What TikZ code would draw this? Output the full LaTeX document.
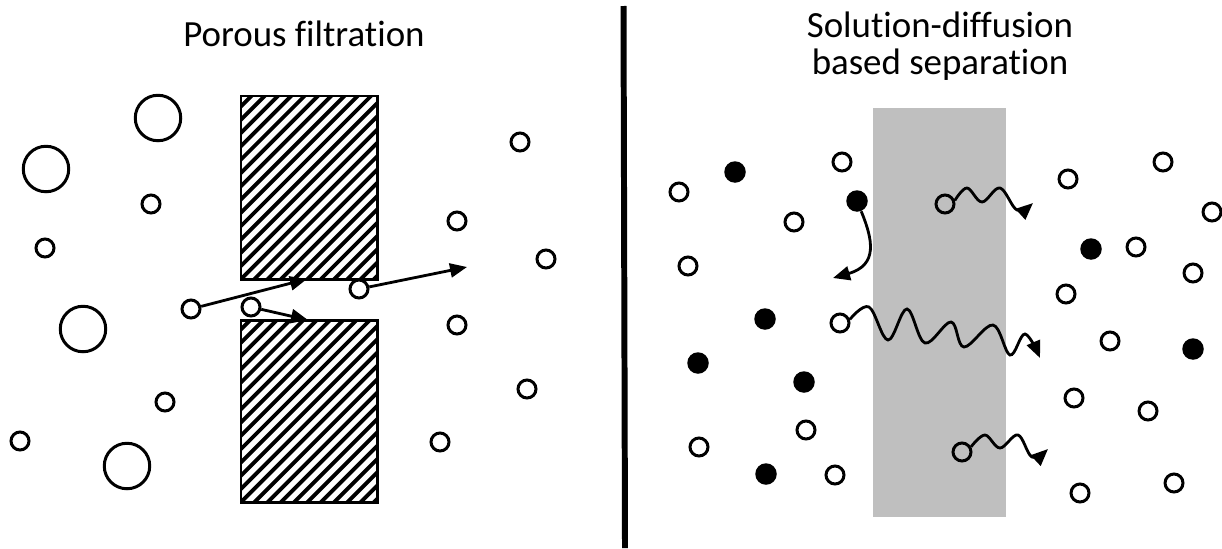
\documentclass[tikz,border=0pt]{standalone}
\usepackage{fontspec}
\setmainfont[Ligatures=NoCommon]{Carlito}
\usetikzlibrary{arrows.meta}

\begin{document}
\begin{tikzpicture}[x=0.02cm, y=-0.02cm,
  small/.style = {draw, circle, line width=1.7pt, minimum size=3.6mm, inner sep=0pt},
  big/.style = {draw, circle, line width=1.7pt, minimum size=9.1mm, inner sep=0pt},
  solute/.style = {fill, circle, minimum size=4.3mm, inner sep=0pt},
  arr/.style = {line width=1.6pt, -{Triangle[length=3.4mm, width=2.8mm]}},
  title/.style = {font=\fontsize{21}{22}\selectfont, anchor=base}]
\useasboundingbox (0,0) rectangle (1222,548);

% titles
\node[title] (pf) at (304,46) {Porous filtration};
\node[title] (sd1) at (940,37) {Solution-diffusion};
\node[title] (sd2) at (940,74) {based separation};

% divider
\draw[line width=3.4pt] (623.5,6) -- (625,548);

% porous walls
\foreach \ya/\yb in {96/279, 320/502} {
  \begin{scope}
    \clip (241,\ya) rectangle (377,\yb);
    \foreach \k in {0,...,26}
      \draw[line width=2.2pt] (50+\k*13.3,\yb+5) -- ++(200,-200);
  \end{scope}
  \draw[line width=1.7pt] (241,\ya) rectangle (377,\yb);
}

% dense membrane
\fill[gray!50] (873,108) rectangle (1006,517);

% left side
\node[big] (b1) at (158,118) {};
\node[big] (b2) at (46,169) {};
\node[big] (b3) at (83,329) {};
\node[big] (b4) at (127,466) {};
\node[small] (s1) at (151,204) {};
\node[small] (s2) at (45,248) {};
\node[small] (s3) at (191,309) {};
\node[small] (s4) at (165,402) {};
\node[small] (s5) at (20,441) {};
\node[small] (s6) at (251,307) {};
\node[small] (s7) at (359,289) {};
\node[small] (s8) at (457,221) {};
\node[small] (s9) at (520,142) {};
\node[small] (s10) at (546,259) {};
\node[small] (s11) at (457,325) {};
\node[small] (s12) at (527,389) {};
\node[small] (s13) at (440,442) {};

% right side
\node[small] (w1) at (842,162) {};
\node[small] (w2) at (679,192) {};
\node[small] (w3) at (794,222) {};
\node[small] (w4) at (688,266) {};
\node[small] (w5) at (840,323) {};
\node[small] (w6) at (806,430) {};
\node[small] (w7) at (699,447) {};
\node[small] (w8) at (835,475) {};
\node[small] (w9) at (945,204) {};
\node[small] (w10) at (962,452) {};
\node[small] (w11) at (1068,179) {};
\node[small] (w12) at (1163,162) {};
\node[small] (w13) at (1212,212) {};
\node[small] (w14) at (1136,247) {};
\node[small] (w15) at (1193,273) {};
\node[small] (w16) at (1066,294) {};
\node[small] (w17) at (1110,341) {};
\node[small] (w18) at (1074,398) {};
\node[small] (w19) at (1148,411) {};
\node[small] (w20) at (1080,493) {};
\node[small] (w21) at (1174,483) {};
\node[solute] (f1) at (735,172) {};
\node[solute] (f2) at (857,201) {};
\node[solute] (f3) at (765,319) {};
\node[solute] (f4) at (698,363) {};
\node[solute] (f5) at (804,382) {};
\node[solute] (f6) at (766,474) {};
\node[solute] (f7) at (1091,249) {};
\node[solute] (f8) at (1193,349) {};

% arrow tips
\coordinate (t1) at (307,279);
\coordinate (t2) at (308,320);
\coordinate (t3) at (467,267);
\coordinate (t4) at (833,278);
\coordinate (t5) at (1033,203);
\coordinate (t6) at (1040,358);
\coordinate (t7) at (1048,449);

\draw[arr] (s3) -- (t1);
\draw[arr] (s6) -- (t2);
\draw[arr] (s7) -- (t3);
\draw[arr] (f2) .. controls (873,240) and (878,265) .. (t4);
\draw[arr] plot[smooth, tension=0.6] coordinates {(w9.20) (967,188) (982,202) (1000,188) (1017,210) (t5)};
\draw[arr] plot[smooth, tension=0.6] coordinates {(w5.20) (869,307) (888,340) (907,309) (925,343) (951,322) (964,347) (993,325) (1010,355) (1025,334) (t6)};
\draw[arr] plot[smooth, tension=0.6] coordinates {(w10.30) (985,435) (1000,448) (1018,435) (1032,457) (t7)};
\end{tikzpicture}
\end{document}
